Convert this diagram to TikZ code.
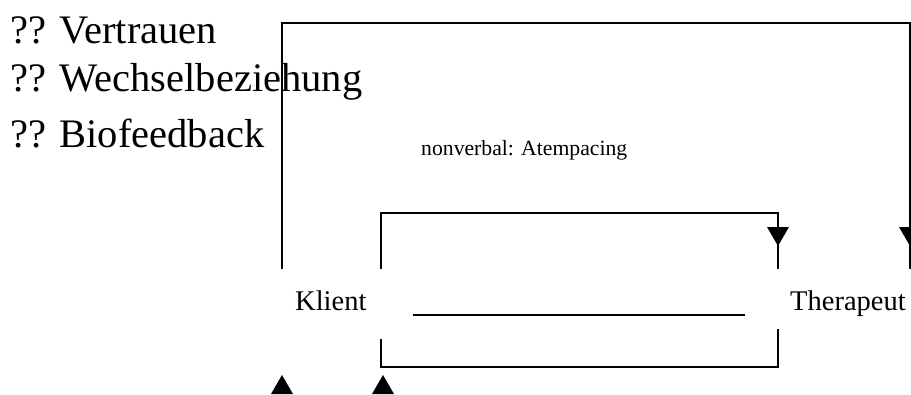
\documentclass[tikz,border=0pt]{standalone}
\usepackage{fontspec}
\setmainfont{Liberation Serif}
\tikzset{
  conn/.style={line width=1.3pt, black},
  headfill/.style={fill=black},
  biglabel/.style={inner sep=0pt, anchor=base west, font=\fontsize{40.5}{48}\selectfont},
  person/.style={inner sep=0pt, anchor=base west, font=\fontsize{28.5}{34}\selectfont},
  small/.style={inner sep=0pt, anchor=base west, font=\fontsize{21.7}{26}\selectfont}
}
\begin{document}
\begin{tikzpicture}[x=1pt,y=-1pt]
\useasboundingbox (0,0) rectangle (911,394);
\clip (0,0) rectangle (911,394);
% list
\node[biglabel] (l1) at (10,43) {?? Vertrauen};
\node[biglabel] (l2) at (10,91) {?? Wechselbeziehung};
\node[biglabel] (l3) at (10,147) {?? Biofeedback};
\node[small] (nv) at (421,155) {nonverbal: Atempacing};
% persons
\node[person] (k) at (295,310) {Klient};
\node[person] (t) at (790,310) {Therapeut};
% coordinates
\coordinate (oL) at (282,269);
\coordinate (oR) at (910,269);
\coordinate (iL) at (381,269);
\coordinate (iR) at (778,269);
\coordinate (bL) at (381,339);
\coordinate (bR) at (778,329);
\coordinate (mL) at (413,315);
\coordinate (mR) at (745,315);
% outer loop
\draw[conn] (oL) -- (282,23) -- (910,23) -- (oR);
% inner upper loop
\draw[conn] (iL) -- (381,213) -- (778,213) -- (iR);
% lower bracket
\draw[conn] (bL) -- (381,367) -- (778,367) -- (bR);
% middle line
\draw[conn] (mL) -- (mR);
% arrow heads
\path[headfill] (778,246) -- ++(-11,-19) -- ++(22,0) -- cycle;
\path[headfill] (910,246) -- ++(-11,-19) -- ++(22,0) -- cycle;
\path[headfill] (282,375) -- ++(-11,19) -- ++(22,0) -- cycle;
\path[headfill] (383,375) -- ++(-11,19) -- ++(22,0) -- cycle;
\end{tikzpicture}
\end{document}
